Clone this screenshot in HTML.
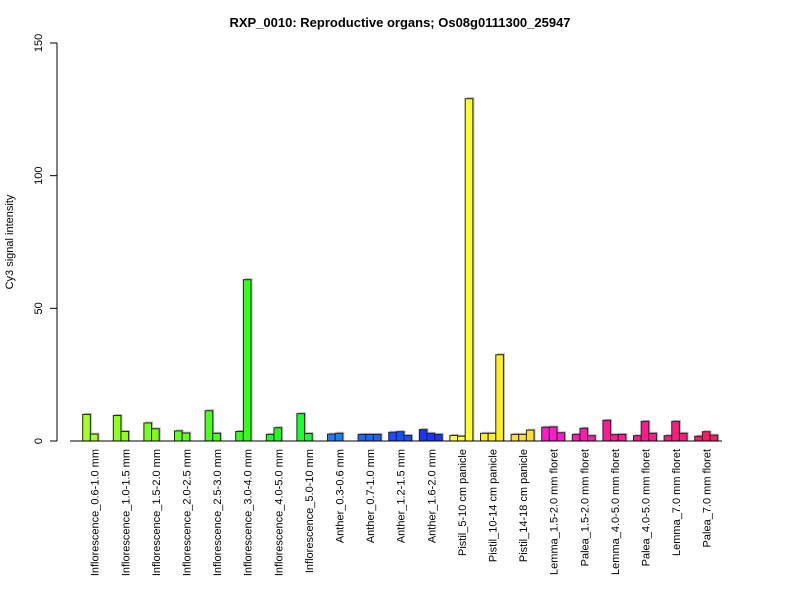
<!DOCTYPE html>
<html><head><meta charset="utf-8"><style>
body{margin:0;background:#fff;}
svg{font-family:"Liberation Sans",Arial,sans-serif;}
</style></head><body>
<svg id="chart" width="800" height="600">
<text x="400" y="27" text-anchor="middle" font-weight="bold" font-size="13">RXP_0010: Reproductive organs; Os08g0111300_25947</text>
<text transform="translate(13,242) rotate(-90)" text-anchor="middle" font-size="11">Cy3 signal intensity</text>
<g id="yaxis"></g>
<g id="bars"></g>
<g id="xlabels"></g>
<line x1="70" y1="441" x2="722" y2="441" stroke="#000"></line>
</svg>
<script>
const categories=["Inflorescence_0.6-1.0 mm","Inflorescence_1.0-1.5 mm","Inflorescence_1.5-2.0 mm","Inflorescence_2.0-2.5 mm","Inflorescence_2.5-3.0 mm","Inflorescence_3.0-4.0 mm","Inflorescence_4.0-5.0 mm","Inflorescence_5.0-10 mm","Anther_0.3-0.6 mm","Anther_0.7-1.0 mm","Anther_1.2-1.5 mm","Anther_1.6-2.0 mm","Pistil_5-10 cm panicle","Pistil_10-14 cm panicle","Pistil_14-18 cm panicle","Lemma_1.5-2.0 mm floret","Palea_1.5-2.0 mm floret","Lemma_4.0-5.0 mm floret","Palea_4.0-5.0 mm floret","Lemma_7.0 mm floret","Palea_7.0 mm floret"];
const values=[[10.0,2.6],[9.6,3.6],[6.8,4.6],[3.8,3.0],[11.4,2.9],[3.6,60.8],[2.5,5.0],[10.3,2.8],[2.6,2.9],[2.5,2.5,2.5],[3.3,3.5,2.1],[4.3,2.9,2.5],[2.1,1.8,129],[2.9,2.9,32.5],[2.5,2.5,4.1],[5.2,5.3,3.1],[2.5,4.8,2.0],[7.8,2.4,2.5],[2.0,7.4,2.9],[2.0,7.4,2.9],[1.8,3.5,2.2]];
const colors=["#a6ff26","#8cff1a","#79ff1a","#66ff1a","#4dff1a","#33ff1a","#1aff1a","#1aff33","#1a80ff","#1a66ff","#1a4dff","#1a33ff","#ffff33","#ffee1a","#ffdd33","#ff1acc","#ff1ab3","#ff1a99","#ff1a8c","#ff1a80","#ff1a66"];
const yTicks=[0,50,100,150];
const NS="http://www.w3.org/2000/svg";
const y0=441,yTop=43,yMax=150;
function ys(v){return y0-(v/yMax)*(y0-yTop);}
const gStart=82.7,gStep=30.6,bw=7.65;
function xs(i){return gStart+i*gStep;}
const yax=document.getElementById('yaxis');
let al=document.createElementNS(NS,'line');
al.setAttribute('x1',57);al.setAttribute('x2',57);al.setAttribute('y1',ys(yTicks[0]));al.setAttribute('y2',ys(yTicks[yTicks.length-1]));al.setAttribute('stroke','#000');
yax.appendChild(al);
yTicks.forEach(t=>{
 const l=document.createElementNS(NS,'line');
 
 
 l.setAttribute('x1',50);l.setAttribute('x2',57);l.setAttribute('y1',ys(t));l.setAttribute('y2',ys(t));l.setAttribute('stroke','#000');
 yax.appendChild(l);
 const tx=document.createElementNS(NS,'text');
 
 
 tx.setAttribute('transform','translate(42,'+ys(t)+') rotate(-90)');
 tx.setAttribute('text-anchor','middle');tx.setAttribute('font-size','11');
 tx.textContent=t;yax.appendChild(tx);
});
const bars=document.getElementById('bars');
const xl=document.getElementById('xlabels');
categories.forEach((c,i)=>{
 values[i].forEach((v,j)=>{
  const x=xs(i)+j*bw;
  const s=document.createElementNS(NS,'rect');
  
  
  s.setAttribute('x',x+1.5);s.setAttribute('y',ys(v)-1.5);s.setAttribute('width',bw);s.setAttribute('height',y0-ys(v)+1.5);s.setAttribute('fill','#bbb');
  bars.appendChild(s);
 });
 values[i].forEach((v,j)=>{
  const x=xs(i)+j*bw;
  const r=document.createElementNS(NS,'rect');
  
  
  r.setAttribute('x',x);r.setAttribute('y',ys(v));r.setAttribute('width',bw);r.setAttribute('height',y0-ys(v));
  r.setAttribute('fill',colors[i]);r.setAttribute('stroke','#222');r.setAttribute('stroke-width','1');
  bars.appendChild(r);
 });
 const t=document.createElementNS(NS,'text');
 
 
 t.setAttribute('transform','translate('+(xs(i)+16)+',449) rotate(-90)');
 t.setAttribute('text-anchor','end');t.setAttribute('font-size','11');
 t.textContent=c;xl.appendChild(t);
});
</script>
</body></html>
